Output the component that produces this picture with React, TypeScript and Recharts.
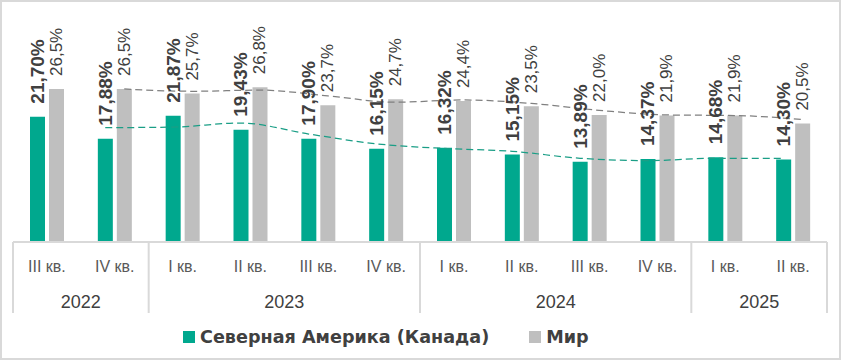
import React from "react";
import {
  ComposedChart,
  Bar,
  Line,
  XAxis,
  YAxis,
  LabelList,
  Legend,
} from "recharts";

// Values
const quarters = [
  "III кв.", "IV кв.",
  "I кв.", "II кв.", "III кв.", "IV кв.",
  "I кв.", "II кв.", "III кв.", "IV кв.",
  "I кв.", "II кв.",
];
const years = [
  "2022", "2022",
  "2023", "2023", "2023", "2023",
  "2024", "2024", "2024", "2024",
  "2025", "2025",
];
const canada = [21.7, 17.88, 21.87, 19.43, 17.9, 16.15, 16.32, 15.15, 13.89, 14.37, 14.68, 14.3];
const world = [26.5, 26.5, 25.7, 26.8, 23.7, 24.7, 24.4, 23.5, 22.0, 21.9, 21.9, 20.5];
// dashed trend lines
const canadaTrend = [null, 19.8, 19.9, 20.6, 18.7, 17.0, 16.2, 15.7, 14.5, 14.1, 14.5, 14.5];
const worldTrend = [null, 26.5, 26.1, 26.3, 25.3, 24.2, 24.6, 24.0, 22.8, 22.0, 21.9, 21.2];

const data = quarters.map((q, i) => ({
  q,
  year: years[i],
  canada: canada[i],
  world: world[i],
  canadaTrend: canadaTrend[i],
  worldTrend: worldTrend[i],
}));

const W = 841;
const H = 360;
const LEFT = 13;
const RIGHT = 14;
const AXIS_Y = 242;
const BAND = (W - LEFT - RIGHT) / quarters.length;

const GREEN = "#00A88E";
const GRAY = "#BFBFBF";
const LINE_GRAY = "#D9D9D9";
const TEXT = "#404040";

const fmt = (v: number, d: number) => v.toFixed(d).replace(".", ",") + "%";

const makeLabel = (decimals: number, bold: boolean) => (props: any) => {
  const { x, y, width, value } = props;
  const cx = x + width / 2;
  const ty = y - 13;
  return (
    <text
      x={cx}
      y={ty}
      transform={`rotate(-90, ${cx}, ${ty})`}
      textAnchor="start"
      dominantBaseline="central"
      fill={TEXT}
      fontFamily="'Liberation Sans', Arial, sans-serif"
      fontSize={bold ? 19 : 17}
      fontWeight={bold ? 700 : 400}
    >
      {fmt(value, decimals)}
    </text>
  );
};

const QuarterTick = (props: any) => {
  const { x, payload } = props;
  return (
    <text
      x={x}
      y={AXIS_Y + 30}
      textAnchor="middle"
      fill="#595959"
      fontFamily="'Liberation Sans', Arial, sans-serif"
      fontSize={16}
    >
      {payload.value}
    </text>
  );
};

const YearTick = (props: any) => {
  const { x, index } = props;
  const yr = years[index];
  let start = index;
  while (start > 0 && years[start - 1] === yr) start--;
  let end = index;
  while (end < years.length - 1 && years[end + 1] === yr) end++;
  const size = end - start + 1;
  const labelAt = start + Math.floor((size - 1) / 2);
  const sepTop = AXIS_Y;
  const sepBottom = 313;
  return (
    <g>
      {index === start && (
        <line x1={x - BAND / 2} x2={x - BAND / 2} y1={sepTop} y2={sepBottom} stroke={LINE_GRAY} strokeWidth={2} />
      )}
      {index === years.length - 1 && (
        <line x1={x + BAND / 2} x2={x + BAND / 2} y1={sepTop} y2={sepBottom} stroke={LINE_GRAY} strokeWidth={2} />
      )}
      {index === labelAt && (
        <text
          x={x + (size % 2 === 0 ? BAND / 2 : 0)}
          y={308}
          textAnchor="middle"
          fill={TEXT}
          fontFamily="'Liberation Sans', Arial, sans-serif"
          fontSize={18}
        >
          {yr}
        </text>
      )}
    </g>
  );
};

const LegendContent = () => (
  <div
    style={{
      height: 47,
      display: "flex",
      alignItems: "center",
      fontFamily: "'DejaVu Sans', 'Liberation Sans', sans-serif",
      fontWeight: 700,
      fontSize: 17.6,
      color: TEXT,
      paddingLeft: 170,
    }}
  >
    <span style={{ display: "flex", alignItems: "center", marginRight: 40 }}>
      <span style={{ width: 12, height: 12, background: GREEN, marginRight: 5, display: "inline-block" }} />
      Северная Америка (Канада)
    </span>
    <span style={{ display: "flex", alignItems: "center" }}>
      <span style={{ width: 12, height: 12, background: GRAY, marginRight: 5, display: "inline-block" }} />
      Мир
    </span>
  </div>
);

export default function App() {
  return (
    <div style={{ position: "absolute", left: 0, top: 0, width: W, height: H, background: "#fff" }}>
      <ComposedChart
        width={W}
        height={H}
        data={data}
        margin={{ top: 11, right: RIGHT, left: LEFT, bottom: 0 }}
        barSize={15}
        barGap={4}
      >
        <YAxis hide domain={[0, 40]} />
        <XAxis
          xAxisId="q"
          dataKey="q"
          height={36}
          interval={0}
          tickLine={false}
          axisLine={{ stroke: LINE_GRAY, strokeWidth: 2 }}
          tick={<QuarterTick />}
        />
        <XAxis
          xAxisId="year"
          dataKey="q"
          height={35}
          interval={0}
          tickLine={false}
          axisLine={false}
          tick={<YearTick />}
        />
        <Legend verticalAlign="bottom" content={<LegendContent />} />
        <Bar xAxisId="q" dataKey="canada" fill={GREEN} isAnimationActive={false}>
          <LabelList dataKey="canada" content={makeLabel(2, true)} />
        </Bar>
        <Bar xAxisId="q" dataKey="world" fill={GRAY} isAnimationActive={false}>
          <LabelList dataKey="world" content={makeLabel(1, false)} />
        </Bar>
        <Line
          xAxisId="q"
          dataKey="canadaTrend"
          type="monotone"
          stroke="#1A9E86"
          strokeWidth={1.25}
          strokeDasharray="7 4"
          dot={false}
          activeDot={false}
          transform="translate(-9.5,0)"
          isAnimationActive={false}
        />
        <Line
          xAxisId="q"
          dataKey="worldTrend"
          type="monotone"
          stroke="#808080"
          strokeWidth={1.25}
          strokeDasharray="7 4"
          dot={false}
          activeDot={false}
          transform="translate(9.5,0)"
          isAnimationActive={false}
        />
      </ComposedChart>
      <div
        style={{
          position: "absolute",
          inset: 0,
          border: "2px solid #D9D9D9",
          pointerEvents: "none",
        }}
      />
    </div>
  );
}
